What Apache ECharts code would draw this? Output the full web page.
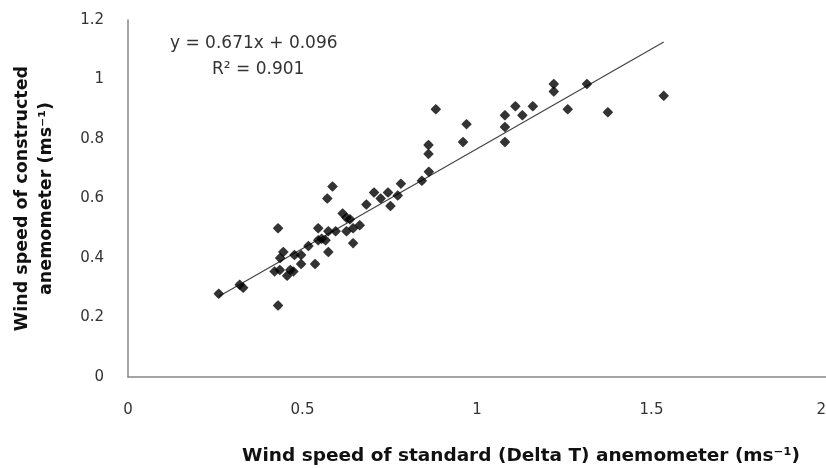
<!DOCTYPE html>
<html>
<head>
<meta charset="utf-8">
<script src="https://cdn.jsdelivr.net/npm/echarts@6/dist/echarts.min.js"></script>
<style>html,body{margin:0;padding:0;background:#fff}#c{width:826px;height:468px}</style>
</head>
<body>
<div id="c"></div>
<script>
// Data
const standardSpeed = [0.26,0.32,0.33,0.43,0.43,0.42,0.435,0.445,0.436,0.477,0.496,0.496,0.536,0.465,0.456,0.474,0.517,0.545,0.555,0.566,0.574,0.545,0.574,0.595,0.626,0.645,0.664,0.626,0.636,0.615,0.645,0.571,0.586,0.683,0.705,0.745,0.773,0.724,0.752,0.782,0.842,0.862,0.861,0.861,0.882,0.96,0.97,1.08,1.08,1.08,1.11,1.13,1.16,1.22,1.22,1.26,1.315,1.375,1.535];
const constructedSpeed = [0.28,0.31,0.30,0.24,0.50,0.355,0.36,0.42,0.40,0.41,0.41,0.38,0.38,0.36,0.34,0.355,0.44,0.46,0.465,0.46,0.42,0.50,0.49,0.49,0.49,0.50,0.51,0.535,0.53,0.55,0.45,0.60,0.64,0.58,0.62,0.62,0.61,0.60,0.575,0.65,0.66,0.69,0.75,0.78,0.90,0.79,0.85,0.79,0.84,0.88,0.91,0.88,0.91,0.96,0.985,0.90,0.985,0.89,0.945];
const slope = 0.671, intercept = 0.096, rSquared = 0.901;
const xTicks = [0, 0.5, 1, 1.5, 2];
const yTicks = [0, 0.2, 0.4, 0.6, 0.8, 1, 1.2];

const points = standardSpeed.map((x, i) => [x, constructedSpeed[i]]);
const xMin = Math.min(...standardSpeed), xMax = Math.max(...standardSpeed);
const trend = [[xMin, intercept + slope * xMin], [xMax, intercept + slope * xMax]];

const font = "'DejaVu Sans', sans-serif";
const chart = echarts.init(document.getElementById('c'));
chart.setOption({
  animation: false,
  grid: { left: 128, top: 20, right: 0, bottom: 91, outerBoundsMode: 'none', containLabel: false },
  xAxis: {
    type: 'value', min: xTicks[0], max: xTicks[xTicks.length - 1], interval: 0.5,
    axisLine: { show: true, lineStyle: { color: '#868686', width: 1.5 } },
    axisTick: { show: false },
    splitLine: { show: false },
    axisLabel: { margin: 26, fontSize: 15, color: '#333', fontFamily: font, showMaxLabel: true, showMinLabel: true, alignMaxLabel: 'right' },
    name: 'Wind speed of standard (Delta T) anemometer (ms\u207B\u00B9)',
    nameLocation: 'middle', nameGap: 70,
    nameTextStyle: { fontSize: 18.5, color: '#111', fontFamily: font, fontWeight: 'bold', padding: [0, 0, 0, 88] }
  },
  yAxis: {
    type: 'value', min: yTicks[0], max: yTicks[yTicks.length - 1], interval: 0.2,
    axisLine: { show: true, lineStyle: { color: '#868686', width: 1.5 } },
    axisTick: { show: false },
    splitLine: { show: false },
    axisLabel: { margin: 24, fontSize: 15, color: '#333', fontFamily: font },
    name: 'Wind speed of constructed\nanemometer (ms\u207B\u00B9)',
    nameLocation: 'middle', nameGap: 70, nameRotate: 90,
    nameTextStyle: { fontSize: 17.5, color: '#111', fontFamily: font, fontWeight: 'bold', lineHeight: 24 }
  },
  series: [
    {
      type: 'scatter', data: points,
      symbol: 'path://M0,-5 L2.6,-2.6 L5,0 L2.6,2.6 L0,5 L-2.6,2.6 L-5,0 L-2.6,-2.6 Z',
      symbolSize: 10.5,
      itemStyle: { color: '#000' }, z: 3
    },
    {
      type: 'line', data: trend, showSymbol: false, symbol: 'none',
      lineStyle: { color: '#444', width: 1.2 }, z: 2, silent: true
    }
  ],
  graphic: [
    { type: 'text', left: 170, top: 35, style: { text: 'y = ' + slope + 'x + ' + intercept, fontSize: 17, fill: '#333', fontFamily: font } },
    { type: 'text', left: 212, top: 61, style: { text: 'R\u00B2 = ' + rSquared, fontSize: 17, fill: '#333', fontFamily: font } }
  ]
});
</script>
</body>
</html>
